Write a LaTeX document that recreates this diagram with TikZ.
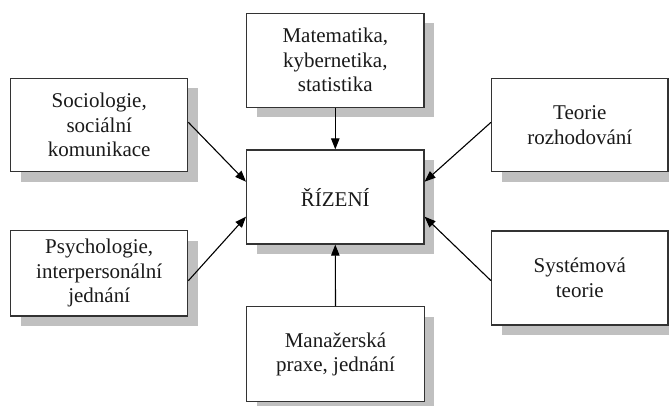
\documentclass[tikz,border=0pt]{standalone}
\usepackage{fontspec}
\setmainfont{Liberation Serif}
\usetikzlibrary{shadows,arrows.meta}
\definecolor{shadowgray}{HTML}{C0C0C0}
\definecolor{linegray}{HTML}{333333}
\definecolor{textgray}{HTML}{1A1A1A}
\begin{document}
\begin{tikzpicture}[x=1pt,y=-1pt,
  box/.style={draw=linegray, line width=1.3pt, fill=white, inner sep=0pt,
    align=center, text=textgray, font=\fontsize{21}{24.5}\selectfont,
    general shadow={fill=shadowgray, shadow xshift=10pt, shadow yshift=-10pt}},
  arr/.style={draw=black, line width=1.1pt, -{Triangle[length=11pt,width=8.5pt]}}]
\clip (0,0) rectangle (669,405);
\fill[white] (0,0) rectangle (669,405);
\node[box, minimum width=177.3pt, minimum height=94pt] (mat) at (335.3,60.3)
  {Matematika,\\kybernetika,\\statistika};
\node[box, minimum width=177.3pt, minimum height=94pt] (riz) at (335.3,197) {ŘÍZENÍ};
\node[box, minimum width=177pt, minimum height=93.4pt] (soc) at (99.2,125)
  {Sociologie,\\sociální\\komunikace};
\node[box, minimum width=177pt, minimum height=85.3pt] (psy) at (99.2,273.4)
  {Psychologie,\\interpersonální\\jednání};
\node[box, minimum width=176.3pt, minimum height=93.4pt] (teo) at (579.8,125)
  {Teorie\\rozhodování};
\node[box, minimum width=176.3pt, minimum height=94pt] (sys) at (579.8,278)
  {Systémová\\teorie};
\node[box, minimum width=177.6pt, minimum height=95pt] (man) at (335.5,354.2)
  {Manažerská\\praxe, jednání};
\draw[arr] (mat.south) -- (riz.north);
\draw[arr] (man.north) -- (riz.south);
\draw[arr] ([yshift=2.7pt]soc.east) -- ([yshift=15.3pt]riz.west);
\draw[arr] ([yshift=-7.3pt]psy.east) -- ([yshift=-19.7pt]riz.west);
\draw[arr] ([yshift=2.7pt]teo.west) -- ([yshift=15.3pt]riz.east);
\draw[arr] ([yshift=-2.7pt]sys.west) -- ([yshift=-19.7pt]riz.east);
\end{tikzpicture}
\end{document}
